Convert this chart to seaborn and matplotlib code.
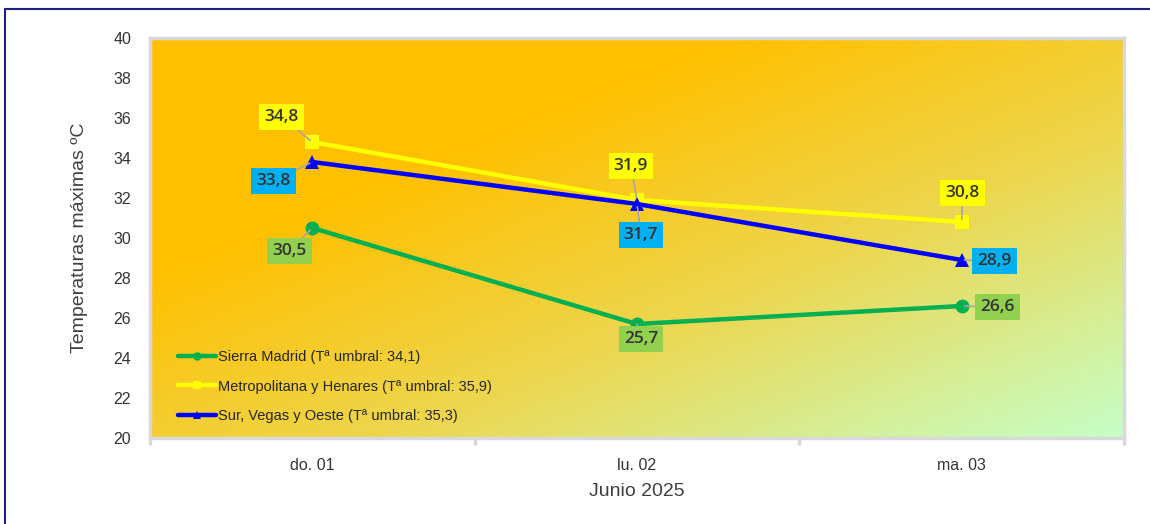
import numpy as np
import pandas as pd
import matplotlib
matplotlib.use('Agg')
import matplotlib.pyplot as plt
import matplotlib.patches as mpatches
from matplotlib.colors import LinearSegmentedColormap
import seaborn as sns

# Datos
dias = ['do. 01', 'lu. 02', 'ma. 03']
zonas = ['Sierra Madrid (Tª umbral: 34,1)',
         'Metropolitana y Henares (Tª umbral: 35,9)',
         'Sur, Vegas y Oeste (Tª umbral: 35,3)']
sierra = [30.5, 25.7, 26.6]
metropolitana = [34.8, 31.9, 30.8]
sur = [33.8, 31.7, 28.9]

colores = ['#00B050', '#FFFF00', '#0000FF']
marcadores = ['o', 's', '^']
caja_colores = ['#92D050', '#FFFF00', '#00B0F0']

# desplazamientos (px) de las etiquetas respecto al punto
offs = [
    [(-23, -23), (4, -15), (36, -1)],
    [(-31, 25), (-6, 34), (1, 29)],
    [(-39, -19), (4, -31), (33, -1)],
]

pos = np.arange(len(dias)) + 0.5
series = [sierra, metropolitana, sur]
df = pd.DataFrame({
    'pos': np.tile(pos, 3),
    'temp': np.concatenate(series),
    'zona': np.repeat(zonas, len(dias)),
})

sns.set_style('white')
plt.rcParams['font.family'] = ['Liberation Sans', 'DejaVu Sans']

fig = plt.figure(figsize=(11.5, 5.24), dpi=100)
ax = fig.add_axes([0.1304, 0.1641, 0.8470, 0.7634])

# fondo degradado
cmap = LinearSegmentedColormap.from_list('fondo', [
    (0.0, '#FFC000'), (0.3, '#FFC000'), (0.62, '#EDD64E'), (1.0, '#C6FFC8')])
xx, yy = np.meshgrid(np.linspace(0, 1, 300), np.linspace(0, 1, 200))
grad = (xx + yy) / 2
ax.imshow(grad, cmap=cmap, extent=[0, 1, 0, 1], transform=ax.transAxes,
          aspect='auto', origin='upper', zorder=0)

sns.lineplot(data=df, x='pos', y='temp', hue='zona', style='zona',
             palette=dict(zip(zonas, colores)),
             markers=dict(zip(zonas, marcadores)), dashes=False,
             linewidth=3.2, markersize=10, markeredgewidth=0, ax=ax, zorder=3)

for serie, col, off in zip(series, caja_colores, offs):
    for x, y, o in zip(pos, serie, off):
        ax.annotate(f'{y:.1f}'.replace('.', ','), xy=(x, y), xytext=o,
                    textcoords='offset pixels', ha='center', va='center',
                    fontsize=12.5, color='#333333', fontweight='semibold',
                    family=['Open Sans', 'DejaVu Sans'],
                    bbox=dict(boxstyle='square,pad=0.3', fc=col, ec='none'),
                    arrowprops=dict(arrowstyle='-', color='#A6A6A6', lw=1.2,
                                    shrinkA=0, shrinkB=2),
                    zorder=5)

ax.set_xlim(0, 3)
ax.set_ylim(20, 40)
ax.set_yticks(np.arange(20, 41, 2))
ax.set_xticks(pos)
ax.set_xticklabels(dias)
ax.set_xticks([0, 1, 2, 3], minor=True)
ax.tick_params(axis='x', which='major', bottom=False, pad=11, labelsize=11.5, labelcolor='#333333')
ax.tick_params(axis='x', which='minor', bottom=True, length=5, color='#D9D9D9', width=2.5, direction='out')
ax.tick_params(axis='y', left=False, pad=10, labelsize=11.5, labelcolor='#333333')
for sp in ax.spines.values():
    sp.set_visible(True)
    sp.set_color('#D9D9D9')
    sp.set_linewidth(2.5)

ax.set_xlabel('Junio 2025', fontsize=14, color='#404040', labelpad=7)
ax.set_ylabel('Temperaturas máximas ºC', fontsize=14, color='#404040', labelpad=18)

leg = ax.legend(loc='lower left', bbox_to_anchor=(0.015, 0.005), frameon=False,
                fontsize=10.5, handlelength=2.6, handletextpad=0.15, labelspacing=1.05,
                markerscale=0.6)
for t in leg.get_texts():
    t.set_color('#262626')

# marco de la figura
fig.patches.append(mpatches.Rectangle((0.0045, -0.5), 1.5, 0.5 + 0.983, fill=False,
                                      edgecolor='#1F1F8A', lw=1.5,
                                      transform=fig.transFigure, figure=fig))

fig.savefig('out.png', dpi=100)
